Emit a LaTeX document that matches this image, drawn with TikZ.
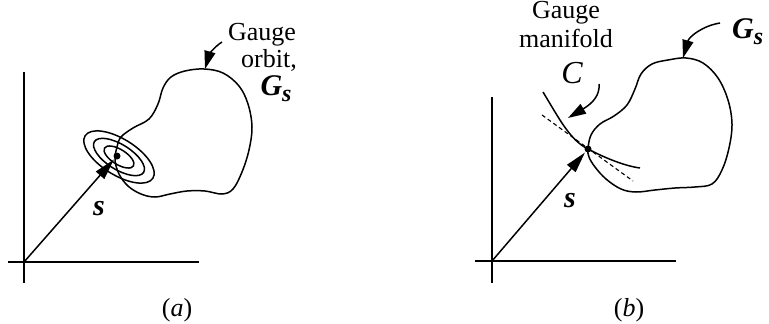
\documentclass[tikz,border=0pt]{standalone}
\usepackage{fontspec}
\setmainfont{Liberation Serif}
\usetikzlibrary{arrows.meta}
\begin{document}
\begin{tikzpicture}[x=1pt,y=-1pt,
  line/.style={line width=1.5pt},
  vec/.style={line width=1.5pt,-{Triangle[length=21pt,width=11pt]},shorten >=1pt},
  ptr/.style={line width=1.5pt,-{Triangle[length=18pt,width=11pt]}},
  lbl/.style={font=\fontsize{26}{28}\selectfont, inner sep=0pt},
  sym/.style={font=\fontsize{30}{30}\selectfont\bfseries\itshape, inner sep=0pt},
  dotn/.style={circle,fill,inner sep=0pt,minimum size=7pt}]
\useasboundingbox (0,0) rectangle (769,324);

% ---------------- panel (a) ----------------
\coordinate (Oa) at (24,262);
\coordinate (Ya) at (24,72);
\coordinate (Ya2) at (24,283);
\coordinate (Xa1) at (8,262);
\coordinate (Xa) at (199,262);
\draw[line] (Ya) -- (Ya2);
\draw[line] (Xa1) -- (Xa);

% gauge orbit blob
\draw[line] plot[smooth cycle, tension=0.6] coordinates {
 (117,147) (121,137) (133,128) (149,119) (158,104) (163,88) (171,77) (185,71)
 (204,69) (223,73) (239,86) (248,104) (252,127) (249,150) (242,172) (233,189)
 (222,194) (205,191) (187,191) (170,194) (155,197) (141,194) (128,186) (119,174) (115,160)};

% ellipses
\coordinate (Ea) at (119,157);
\draw[line] (Ea) ellipse [x radius=40, y radius=18, rotate=-32];
\draw[line] (Ea) ellipse [x radius=29, y radius=12.5, rotate=-32];
\draw[line] (Ea) ellipse [x radius=17, y radius=7.5, rotate=-32];

\node[dotn] (Da) at (117,156) {};
\draw[vec] (Oa) -- (Da);
\node[sym, anchor=base] (sa) at (99,215) {s};

% label
\node[lbl, anchor=base] (ga) at (262,40) {Gauge};
\node[lbl, anchor=base] (oa) at (269,67) {orbit,};
\node[sym, anchor=base] (Gsa) at (276,95) {G\raisebox{-6pt}{\fontsize{24}{24}\selectfont s}};
\coordinate (Ta) at (222,42);
\coordinate (Pa) at (205,69);
\draw[ptr] (Ta) .. controls (214,47) and (209,55) .. (Pa);

\node[lbl, anchor=base] (capa) at (177,316) {(\textit{a})};

% ---------------- panel (b) ----------------
\coordinate (Ob) at (492,261);
\coordinate (Yb) at (492,97);
\coordinate (Yb2) at (492,283);
\coordinate (Xb1) at (475,261);
\coordinate (Xb) at (676,261);
\draw[line] (Yb) -- (Yb2);
\draw[line] (Xb1) -- (Xb);

\draw[line] plot[smooth cycle, tension=0.6] coordinates {
 (588,149) (591,135) (600,124) (614,116) (627,105) (635,89) (641,74) (652,64)
 (668,60) (686,58) (703,63) (718,78) (728,100) (732,124) (729,148) (722,170)
 (712,184) (695,187) (675,188) (655,190) (636,192) (621,189) (606,179) (595,167) (589,157)};

\node[dotn] (Db) at (588,149) {};
% gauge manifold curve and its tangent
\coordinate (C1) at (543,92);
\coordinate (C2) at (640,168);
\draw[line] (C1) .. controls (560,120) and (570,140) .. (Db.center)
  .. controls (605,158) and (625,166) .. (C2);
\coordinate (T1) at (542,115);
\coordinate (T2) at (633,181);
\draw[line width=1.1pt, dash pattern=on 4pt off 3pt] (T1) -- (T2);

\draw[vec] (Ob) -- (Db);
\node[sym, anchor=base] (sb) at (570,207) {s};

\node[lbl, anchor=base] (gb) at (566,19) {Gauge};
\node[lbl, anchor=base] (mb) at (566,47) {manifold};
\node[font=\fontsize{32}{32}\selectfont\itshape, inner sep=0pt, anchor=base] (Cl) at (572,83) {C};
\coordinate (Tc) at (599,84);
\coordinate (Pc) at (568,118);
\draw[ptr] (Tc) .. controls (600,95) and (593,103) .. (Pc);

\node[sym, anchor=base west] (Gsb) at (732,38) {G\raisebox{-6pt}{\fontsize{24}{24}\selectfont s}};
\coordinate (Tb) at (720,23);
\coordinate (Pb) at (683,58);
\draw[ptr] (Tb) .. controls (702,26) and (689,37) .. (Pb);

\node[lbl, anchor=base] (capb) at (629,316) {(\textit{b})};
\end{tikzpicture}
\end{document}
